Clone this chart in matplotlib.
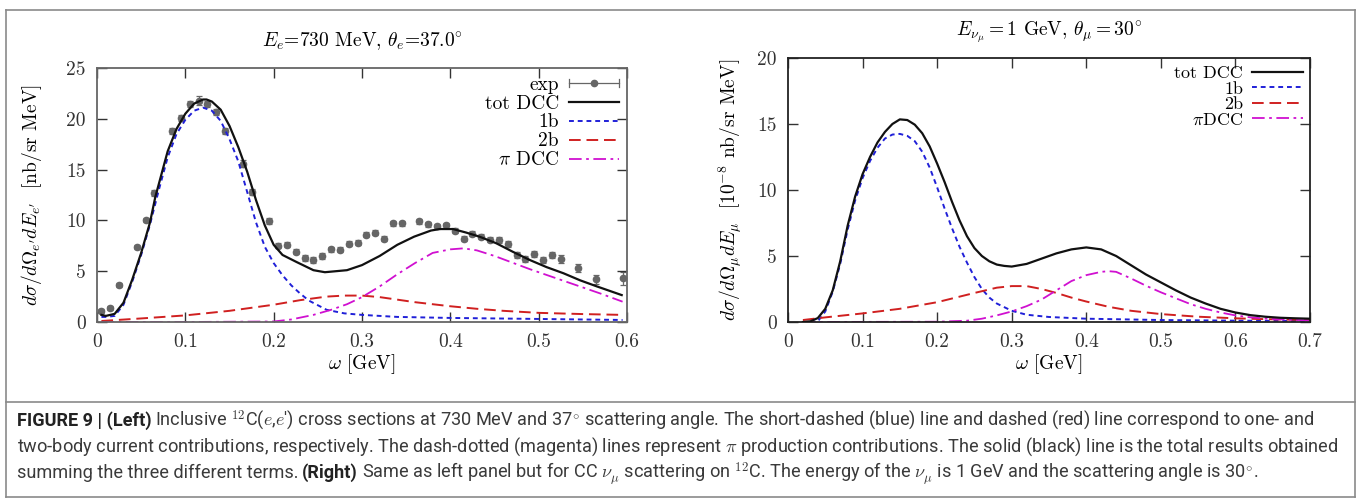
import matplotlib
matplotlib.use("Agg")
import matplotlib.pyplot as plt
from matplotlib import font_manager
from matplotlib.lines import Line2D
from matplotlib.legend_handler import HandlerBase
from matplotlib.ticker import FuncFormatter

plt.rcParams["font.family"] = "cmr10"
plt.rcParams["mathtext.fontset"] = "cm"
plt.rcParams["axes.formatter.use_mathtext"] = True
plt.rcParams["axes.unicode_minus"] = False

# ---- left panel: 12C(e,e') at 730 MeV, 37 deg ----
exp_w = [0.005, 0.015, 0.025, 0.045, 0.055, 0.065, 0.085, 0.095, 0.105, 0.115,
         0.125, 0.135, 0.145, 0.165, 0.175, 0.195, 0.205, 0.215, 0.225, 0.235,
         0.245, 0.255, 0.265, 0.275, 0.285, 0.295, 0.305, 0.315, 0.325, 0.335,
         0.345, 0.365, 0.375, 0.385, 0.395, 0.405, 0.415, 0.425, 0.435, 0.445,
         0.455, 0.465, 0.475, 0.485, 0.495, 0.505, 0.515, 0.525, 0.545, 0.565, 0.595]
exp_xs = [1.1, 1.4, 3.6, 7.4, 10.0, 12.7, 18.8, 20.1, 21.5, 21.8,
          21.5, 20.7, 18.8, 15.6, 12.8, 9.9, 7.5, 7.6, 6.9, 6.3,
          6.1, 6.5, 7.15, 7.1, 7.7, 7.8, 8.6, 8.8, 8.2, 9.7,
          9.7, 9.9, 9.6, 9.4, 9.5, 9.0, 8.2, 8.7, 8.4, 8.1,
          8.1, 7.65, 6.6, 6.2, 6.7, 6.1, 6.6, 6.2, 5.3, 4.2, 4.3]
exp_err = [0.2, 0.2, 0.2, 0.2, 0.2, 0.25, 0.3, 0.3, 0.3, 0.45,
           0.3, 0.3, 0.3, 0.35, 0.3, 0.3, 0.25, 0.25, 0.25, 0.25,
           0.25, 0.25, 0.25, 0.25, 0.25, 0.25, 0.25, 0.25, 0.25, 0.25,
           0.25, 0.25, 0.25, 0.25, 0.25, 0.25, 0.25, 0.25, 0.25, 0.25,
           0.3, 0.3, 0.3, 0.3, 0.3, 0.3, 0.3, 0.35, 0.4, 0.45, 0.65]

tot_l_w = [0.005, 0.01, 0.02, 0.03, 0.04, 0.05, 0.06, 0.066, 0.08, 0.09, 0.10,
           0.11, 0.12, 0.124, 0.13, 0.14, 0.15, 0.16, 0.17, 0.18, 0.19, 0.20,
           0.21, 0.226, 0.245, 0.258, 0.283, 0.30, 0.32, 0.34, 0.359, 0.378,
           0.388, 0.403, 0.418, 0.433, 0.452, 0.471, 0.49, 0.509, 0.528, 0.547,
           0.566, 0.594]
tot_l = [0.7, 0.6, 0.8, 1.9, 4.2, 6.8, 9.8, 12.3, 16.8, 19.0, 20.5,
         21.5, 21.9, 21.9, 21.7, 20.9, 19.3, 17.2, 14.8, 12.0, 9.5, 7.6,
         6.6, 5.9, 5.1, 4.9, 5.1, 5.6, 6.5, 7.6, 8.4, 9.0,
         9.15, 9.15, 8.8, 8.4, 7.75, 6.9, 6.1, 5.4, 4.8, 4.1,
         3.5, 2.65]

one_l_w = [0.005, 0.01, 0.02, 0.03, 0.04, 0.05, 0.06, 0.07, 0.08, 0.09, 0.10,
           0.11, 0.12, 0.13, 0.14, 0.15, 0.16, 0.17, 0.18, 0.19, 0.20, 0.21,
           0.22, 0.23, 0.24, 0.26, 0.28, 0.30, 0.34, 0.40, 0.50, 0.595]
one_l = [0.5, 0.5, 0.6, 1.7, 4.0, 6.6, 9.6, 13.0, 16.2, 18.5, 19.9,
         20.8, 21.1, 20.8, 19.8, 18.0, 15.8, 12.8, 9.8, 7.4, 5.8, 4.6,
         3.6, 2.8, 2.1, 1.2, 0.85, 0.7, 0.5, 0.4, 0.3, 0.2]

two_l_w = [0.005, 0.05, 0.10, 0.15, 0.20, 0.23, 0.26, 0.28, 0.30, 0.32, 0.34,
           0.36, 0.38, 0.40, 0.43, 0.46, 0.50, 0.55, 0.595]
two_l = [0.1, 0.35, 0.65, 1.1, 1.7, 2.15, 2.5, 2.6, 2.6, 2.45, 2.2,
         1.95, 1.75, 1.55, 1.3, 1.1, 0.9, 0.78, 0.7]

pi_l_w = [0.005, 0.10, 0.20, 0.22, 0.245, 0.265, 0.283, 0.30, 0.32, 0.34, 0.36,
          0.38, 0.40, 0.415, 0.43, 0.45, 0.47, 0.49, 0.51, 0.53, 0.55, 0.57, 0.595]
pi_l = [0.0, 0.0, 0.05, 0.25, 0.7, 1.2, 1.75, 2.45, 3.5, 4.7, 5.8,
        6.8, 7.15, 7.25, 7.05, 6.5, 5.85, 5.2, 4.6, 4.0, 3.4, 2.8, 2.0]

# ---- right panel: CC nu_mu on 12C, 1 GeV, 30 deg ----
tot_r_w = [0.02, 0.03, 0.04, 0.05, 0.06, 0.07, 0.08, 0.09, 0.10, 0.11, 0.12,
           0.13, 0.14, 0.15, 0.16, 0.17, 0.18, 0.19, 0.20, 0.21, 0.22, 0.23,
           0.24, 0.25, 0.26, 0.27, 0.28, 0.29, 0.30, 0.32, 0.34, 0.36, 0.38,
           0.40, 0.42, 0.44, 0.46, 0.48, 0.50, 0.52, 0.54, 0.56, 0.58, 0.60,
           0.62, 0.64, 0.66, 0.68, 0.70]
tot_r = [0.0, 0.05, 0.3, 1.0, 2.4, 4.6, 7.3, 9.5, 11.2, 12.5, 13.6,
         14.4, 15.0, 15.35, 15.3, 14.95, 14.3, 13.3, 12.0, 10.6, 9.1, 7.7,
         6.5, 5.6, 5.0, 4.6, 4.35, 4.25, 4.2, 4.4, 4.8, 5.2, 5.5,
         5.65, 5.5, 5.0, 4.3, 3.6, 3.0, 2.4, 1.85, 1.4, 1.0, 0.72,
         0.52, 0.4, 0.32, 0.28, 0.25]

one_r_w = [0.03, 0.04, 0.05, 0.06, 0.07, 0.08, 0.09, 0.10, 0.11, 0.12, 0.13,
           0.14, 0.15, 0.16, 0.17, 0.18, 0.19, 0.20, 0.21, 0.22, 0.23, 0.24,
           0.25, 0.26, 0.27, 0.28, 0.30, 0.32, 0.35, 0.40, 0.50, 0.60, 0.70]
one_r = [0.0, 0.05, 0.8, 2.3, 4.4, 7.0, 9.2, 10.9, 12.2, 13.2, 13.9,
         14.2, 14.25, 14.1, 13.7, 12.9, 11.7, 10.2, 8.6, 7.1, 5.7, 4.5,
         3.4, 2.5, 1.85, 1.4, 0.85, 0.55, 0.38, 0.25, 0.15, 0.1, 0.08]

two_r_w = [0.02, 0.05, 0.10, 0.15, 0.20, 0.25, 0.28, 0.30, 0.32, 0.34, 0.36,
           0.38, 0.40, 0.43, 0.46, 0.50, 0.55, 0.60, 0.65, 0.70]
two_r = [0.15, 0.35, 0.65, 1.0, 1.5, 2.2, 2.6, 2.72, 2.72, 2.5, 2.2,
         1.85, 1.55, 1.15, 0.85, 0.6, 0.4, 0.28, 0.2, 0.15]

pi_r_w = [0.02, 0.20, 0.24, 0.26, 0.28, 0.30, 0.32, 0.34, 0.36, 0.38, 0.40,
          0.42, 0.43, 0.44, 0.46, 0.48, 0.50, 0.52, 0.54, 0.56, 0.58, 0.60,
          0.62, 0.65, 0.70]
pi_r = [0.0, 0.02, 0.1, 0.25, 0.5, 0.8, 1.2, 1.7, 2.4, 3.1, 3.55,
        3.8, 3.85, 3.8, 3.3, 2.75, 2.25, 1.8, 1.35, 1.0, 0.72, 0.5,
        0.35, 0.22, 0.12]

W, H = 1362, 499
fig = plt.figure(figsize=(W / 100, H / 100), dpi=100)

black = "#111111"
blue = "#2020d8"
red = "#d02020"
magenta = "#d010d0"
grey = "#666666"


def px_box(x0, y0, x1, y1):
    # pixel box (top-left origin) -> figure fraction rect
    return [x0 / W, 1 - y1 / H, (x1 - x0) / W, (y1 - y0) / H]


class ErrBarHandler(HandlerBase):
    # gnuplot-like key for data with error bars: |---o---|
    def create_artists(self, legend, orig, xd, yd, width, height, fontsize, trans):
        y = (height - yd) / 2
        x0, x1 = -xd, -xd + width
        arts = [Line2D([x0, x1], [y, y], color=grey, lw=0.9),
                Line2D([x0, x0], [y - 3, y + 3], color=grey, lw=0.9),
                Line2D([x1, x1], [y - 3, y + 3], color=grey, lw=0.9),
                Line2D([(x0 + x1) / 2], [y], marker="o", ms=4.5, color=grey, ls="")]
        for a in arts:
            a.set_transform(trans)
        return arts


def style_axes(ax, xmax, ymax, frame):
    ax.set_xlim(0, xmax)
    ax.set_ylim(0, ymax)
    ax.set_xticks([i / 10 for i in range(int(round(xmax * 10)) + 1)])
    ax.set_yticks(range(0, ymax + 1, 5))
    ax.xaxis.set_major_formatter(FuncFormatter(lambda v, p: f"{v:g}"))
    ax.yaxis.set_major_formatter(FuncFormatter(lambda v, p: f"{v:g}"))
    ax.tick_params(direction="in", top=True, right=True, length=7, width=1,
                   labelsize=14, pad=8, colors="#333333")
    for s in ax.spines.values():
        s.set_color(frame)
        s.set_linewidth(1.3)
    ax.set_xlabel(r"$\omega$ [GeV]", fontsize=14, labelpad=1)


# left
ax1 = fig.add_axes(px_box(97, 68, 627, 322))
ax1.errorbar(exp_w, exp_xs, yerr=exp_err, fmt="o", color=grey, ms=4.5,
             elinewidth=0.9, capsize=2.5, capthick=0.9, zorder=1)
h_tot, = ax1.plot(tot_l_w, tot_l, color=black, lw=1.6, zorder=3)
h_one, = ax1.plot(one_l_w, one_l, color=blue, lw=1.4, dashes=(2.5, 2), zorder=2)
h_two, = ax1.plot(two_l_w, two_l, color=red, lw=1.4, dashes=(6, 3), zorder=2)
h_pi, = ax1.plot(pi_l_w, pi_l, color=magenta, lw=1.3, dashes=(7, 2.5, 1.5, 2.5), zorder=2)
style_axes(ax1, 0.6, 25, "#666666")
ax1.set_ylabel(r"$d\sigma/d\Omega_{e^\prime}dE_{e^\prime}$  [nb/sr MeV]",
               fontsize=14, labelpad=16)
exp_proxy = Line2D([], [], color=grey)
ax1.legend([exp_proxy, h_tot, h_one, h_two, h_pi],
           ["exp", "tot DCC", "1b", "2b", r"$\pi$ DCC"],
           handler_map={exp_proxy: ErrBarHandler()},
           loc="upper right", frameon=False, markerfirst=False, fontsize=14,
           handlelength=2.6, handletextpad=0.5, labelspacing=0.05,
           borderaxespad=0.1, borderpad=0.3)

# right
ax2 = fig.add_axes(px_box(788, 58, 1310, 322))
r_tot, = ax2.plot(tot_r_w, tot_r, color=black, lw=1.6, zorder=3)
r_one, = ax2.plot(one_r_w, one_r, color=blue, lw=1.4, dashes=(2.5, 2), zorder=2)
r_two, = ax2.plot(two_r_w, two_r, color=red, lw=1.4, dashes=(6, 3), zorder=2)
r_pi, = ax2.plot(pi_r_w, pi_r, color=magenta, lw=1.3, dashes=(7, 2.5, 1.5, 2.5), zorder=2)
style_axes(ax2, 0.7, 20, "#222222")
ax2.set_ylabel(r"$d\sigma/d\Omega_\mu dE_\mu$  [$10^{-8}$ nb/sr MeV]",
               fontsize=14, labelpad=10)
ax2.legend([r_tot, r_one, r_two, r_pi], ["tot DCC", "1b", "2b", r"$\pi$DCC"],
           loc="upper right", frameon=False, markerfirst=False, fontsize=13,
           handlelength=2.8, handletextpad=0.5, labelspacing=0.0,
           borderaxespad=0.1, borderpad=0.3)

fig.text(362 / W, 1 - 42 / H, r"$E_e$=730 MeV, $\theta_e$=37.0$^{\circ}$",
         ha="center", va="center", fontsize=14)
fig.text(1049 / W, 1 - 33 / H, r"$E_{\nu_\mu}=1$ GeV, $\theta_\mu=30^{\circ}$",
         ha="center", va="center", fontsize=14)

# gray frame around figure and caption
fc = "#8a8a8a"
for (xa, ya, xb, yb) in [(6, 10, 1355, 10), (6, 10, 6, 497), (1355, 10, 1355, 497),
                         (6, 497, 1355, 497), (6, 402, 1355, 402)]:
    fig.add_artist(Line2D([xa / W, xb / W], [1 - ya / H, 1 - yb / H],
                          color=fc, lw=1.2))

# caption
names = {f.name for f in font_manager.fontManager.ttflist}
cap_font = "Liberation Sans Narrow" if "Liberation Sans Narrow" in names else "Roboto"

line1 = [("FIGURE 9 | (Left)", "bold"),
         (r"Inclusive $^{12}$C($e$,$e$') cross sections at 730 MeV and 37$^{\circ}$ scattering angle. "
          r"The short-dashed (blue) line and dashed (red) line correspond to one- and", "normal")]
line2 = [(r"two-body current contributions, respectively. The dash-dotted (magenta) lines represent "
          r"$\pi$ production contributions. The solid (black) line is the total results obtained", "normal")]
line3 = [("summing the three different terms.", "normal"), ("(Right)", "bold"),
         (r"Same as left panel but for CC $\nu_\mu$ scattering on $^{12}$C. "
          r"The energy of the $\nu_\mu$ is 1 GeV and the scattering angle is 30$^{\circ}$.", "normal")]

renderer = fig.canvas.get_renderer()


def draw_caption_line(segs, y, size, draw=True):
    x = 17.0
    gap = size * 0.28
    made = []
    for s, w in segs:
        t = fig.text(x / W, 1 - y / H, s, fontsize=size, fontweight=w,
                     family=[cap_font, "DejaVu Sans"],
                     color="#222222" if w == "bold" else "#3a3a3a", va="baseline")
        made.append(t)
        x += t.get_window_extent(renderer).width + gap
    if not draw:
        for t in made:
            t.remove()
    return x - gap - 17


size = min(10 * 1326 / draw_caption_line(seg, 0, 10, draw=False)
           for seg in (line1, line2, line3))
draw_caption_line(line1, 426, size)
draw_caption_line(line2, 452, size)
draw_caption_line(line3, 478, size)

fig.savefig("out.png", dpi=100)
